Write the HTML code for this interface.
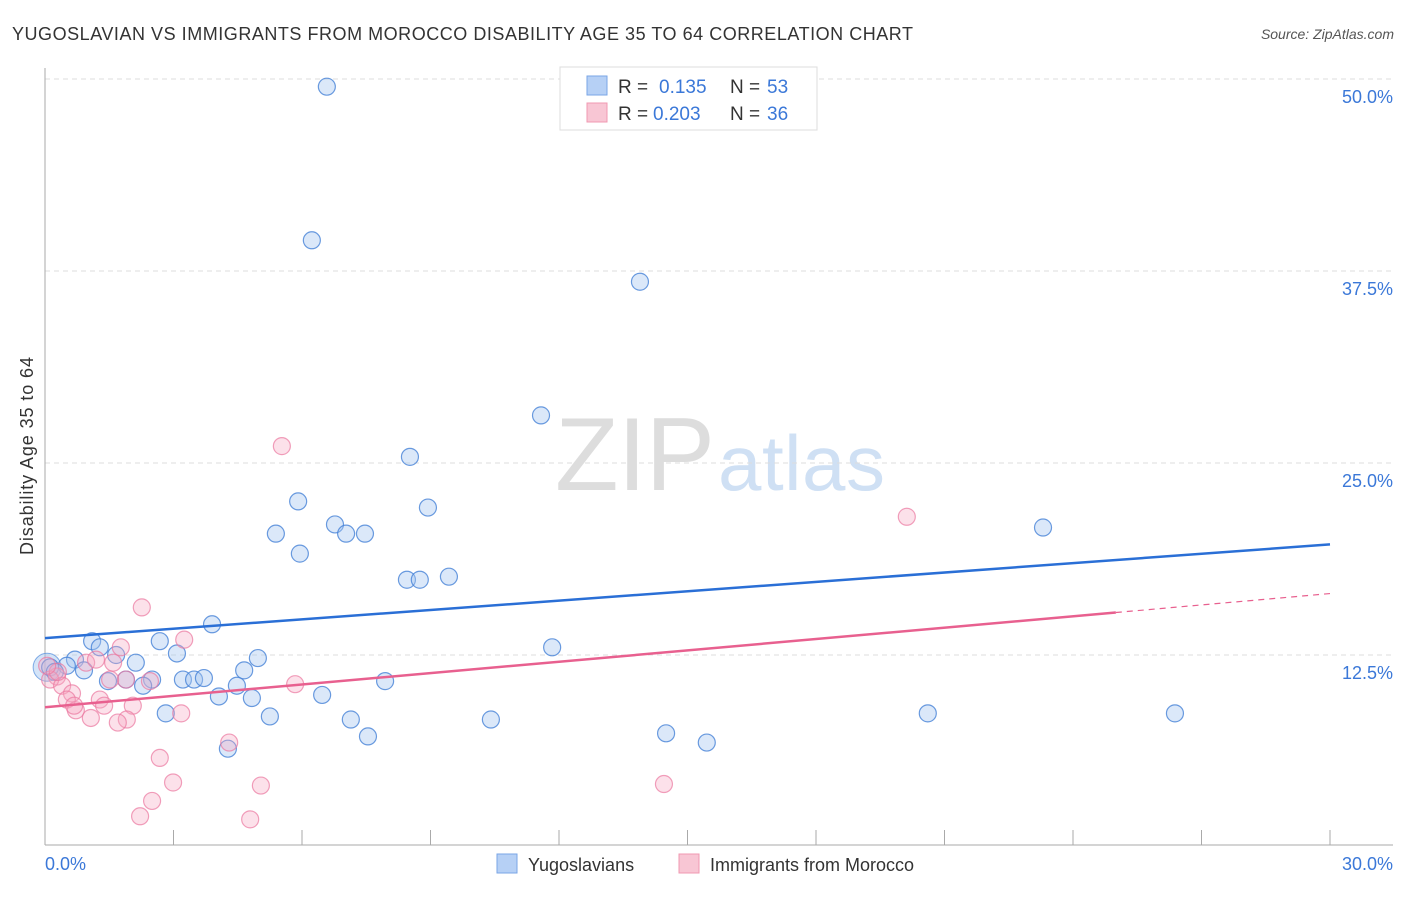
<!DOCTYPE html>
<html><head><meta charset="utf-8"><style>
body{margin:0;background:#fff;font-family:"Liberation Sans",sans-serif}
svg text{font-family:"Liberation Sans",sans-serif}
</style></head><body>
<svg width="1406" height="892">
<text x="12" y="40" font-size="18" textLength="901" fill="#333">YUGOSLAVIAN VS IMMIGRANTS FROM MOROCCO DISABILITY AGE 35 TO 64 CORRELATION CHART</text>
<text x="1394" y="39" font-size="14" fill="#555" font-style="italic" text-anchor="end">Source: ZipAtlas.com</text>
<text x="555" y="490" font-size="104" textLength="160" fill="#ddd" font-family="Liberation Serif">ZIP</text>
<text x="718" y="490" font-size="78" textLength="167" fill="#cfe0f4">atlas</text>
<g id="grid"></g>
<line x1="45" y1="68" x2="45" y2="845" stroke="#aaa"/>
<line x1="45" y1="845" x2="1393" y2="845" stroke="#aaa"/>
<g id="xticks"></g>
<text x="33" y="456" font-size="18" textLength="198" fill="#333" text-anchor="middle" transform="rotate(-90 33 456)">Disability Age 35 to 64</text>
<text x="45" y="870" font-size="18" fill="#3b78d8">0.0%</text>
<text x="1393" y="870" font-size="18" fill="#3b78d8" text-anchor="end">30.0%</text>
<g id="marks"></g>
<g>
<rect x="560" y="67" width="257" height="63" fill="#fff" stroke="#ddd"/>
<rect x="587" y="76" width="20" height="19" fill="#b6d0f5" stroke="#7aa6e6"/>
<rect x="587" y="103" width="20" height="19" fill="#f8c6d4" stroke="#f098b2"/>
<text x="618" y="93" font-size="19" fill="#333">R = </text>
<text x="659" y="93" font-size="19" fill="#3b78d8">0.135</text>
<text x="730" y="93" font-size="19" fill="#333">N = </text>
<text x="767" y="93" font-size="19" fill="#3b78d8">53</text>
<text x="618" y="120" font-size="19" fill="#333">R = </text>
<text x="653" y="120" font-size="19" fill="#3b78d8">0.203</text>
<text x="730" y="120" font-size="19" fill="#333">N = </text>
<text x="767" y="120" font-size="19" fill="#3b78d8">36</text>
</g>
<g>
<rect x="497" y="854" width="20" height="19" fill="#b6d0f5" stroke="#7aa6e6"/>
<text x="528" y="871" font-size="18" fill="#333">Yugoslavians</text>
<rect x="679" y="854" width="20" height="19" fill="#f8c6d4" stroke="#f098b2"/>
<text x="710" y="871" font-size="18" fill="#333">Immigrants from Morocco</text>
</g>
</svg>
<script>
const yTicks=[12.5,25,37.5,50];
const blueX=[6.58,6.23,13.89,11.58,8.52,5.91,8.94,5.39,6.77,7.03,7.47,5.95,8.45,8.75,9.43,3.90,1.10,2.68,1.28,3.08,11.84,4.97,0.70,1.66,2.12,4.65,0.51,0.91,0.12,0.23,2.50,3.22,3.48,3.71,1.47,1.89,2.29,4.48,7.94,4.06,4.83,6.47,2.82,5.25,7.14,10.41,20.61,26.38,7.54,14.50,15.45,4.27,23.30];
const blueY=[49.5,39.5,36.8,28.1,25.4,22.5,22.1,20.4,21.0,20.4,20.4,19.1,17.4,17.4,17.6,14.5,13.4,13.4,13.0,12.6,13.0,12.3,12.2,12.5,12.0,11.5,11.8,11.5,11.7,11.4,10.9,10.9,10.9,11.0,10.8,10.9,10.5,10.5,10.8,9.8,9.7,9.9,8.7,8.5,8.3,8.3,8.7,8.7,7.2,7.4,6.8,6.4,20.8];
const pinkX=[5.53,20.12,2.26,3.25,1.77,0.96,1.19,1.59,0.28,0.12,0.40,0.63,0.51,1.28,5.84,1.89,2.45,1.52,0.72,0.68,1.38,2.05,1.07,1.91,1.70,3.18,4.30,2.68,2.99,5.04,14.45,2.50,2.22,4.79,0.30,0.05];
const pinkY=[26.1,21.5,15.6,13.5,13.0,12.0,12.2,12.0,11.1,10.9,10.5,10.0,9.6,9.6,10.6,10.9,10.8,10.9,8.9,9.2,9.2,9.2,8.4,8.3,8.1,8.7,6.8,5.8,4.2,4.0,4.1,3.0,2.0,1.8,11.4,11.8];
const blueTrend=[13.6,19.7];
const pinkTrend=[9.1,16.5];
const NS='http://www.w3.org/2000/svg';
const xs=v=>45+v/30*1285, ys=v=>847-v/12.5*192;
function mk(t,a,p){const e=document.createElementNS(NS,t);for(const k in a)e.setAttribute(k,a[k]);p.appendChild(e);return e;}
const grid=document.getElementById('grid');
yTicks.forEach(t=>{
 const l=mk('line',{x1:45,x2:1393,y1:ys(t),y2:ys(t),stroke:'#ddd','stroke-dasharray':'5,4'},grid);
 
 
 const tx=mk('text',{x:1393,y:ys(t)+24,'font-size':18,fill:'#3b78d8','text-anchor':'end'},grid);
 tx.textContent=t.toFixed(1)+'%';
 
 
});
const xt=document.getElementById('xticks');
for(let i=1;i<=10;i++){const l=mk('line',{x1:xs(i*3),x2:xs(i*3),y1:830,y2:845,stroke:'#aaa'},xt);
 
 }
const m=document.getElementById('marks');
const big=mk('circle',{cx:xs(0.05),cy:ys(11.7),r:14,fill:'rgba(160,195,240,0.45)',stroke:'rgba(80,140,220,0.7)'},m);


blueX.forEach((x,i)=>{const c=mk('circle',{cx:xs(x),cy:ys(blueY[i]),r:8.5,fill:'rgba(165,198,240,0.4)',stroke:'rgba(70,130,215,0.8)','stroke-width':1.2},m);
 
 });
pinkX.forEach((x,i)=>{const c=mk('circle',{cx:xs(x),cy:ys(pinkY[i]),r:8.5,fill:'rgba(245,170,195,0.35)',stroke:'rgba(235,120,160,0.7)','stroke-width':1.2},m);
 
 });
const bl=mk('line',{x1:xs(0),y1:ys(blueTrend[0]),x2:xs(30),y2:ys(blueTrend[1]),stroke:'#2a6fd6','stroke-width':2.5},m);


const pAt=x=>pinkTrend[0]+(pinkTrend[1]-pinkTrend[0])*x/30;
const pl=mk('line',{x1:xs(0),y1:ys(pAt(0)),x2:xs(25),y2:ys(pAt(25)),stroke:'#e8608f','stroke-width':2.5},m);


const pd=mk('line',{x1:xs(25),y1:ys(pAt(25)),x2:xs(30),y2:ys(pAt(30)),stroke:'#e8608f','stroke-width':1.2,'stroke-dasharray':'6,5'},m);


</script>
</body></html>
